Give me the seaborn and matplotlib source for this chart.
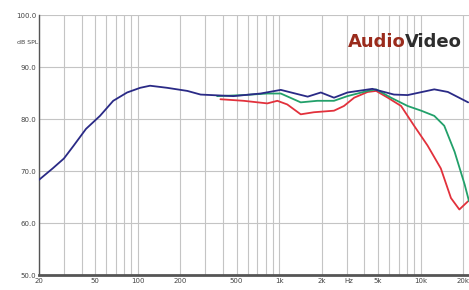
import numpy as np
import pandas as pd
import matplotlib
matplotlib.use("Agg")
import matplotlib.pyplot as plt
import matplotlib.transforms as mtransforms
import seaborn as sns

# frequency response curves (Hz, dB SPL)
blue_freq = [20, 25, 30, 35, 43, 54, 67, 84, 104, 122, 161, 224, 278, 474, 738,
             1026, 1590, 1970, 2440, 3040, 4560, 6480, 8100, 12500, 15600, 21700]
blue_db = [68.3, 70.5, 72.4, 74.8, 78.1, 80.6, 83.5, 85.1, 86.0, 86.4, 86.0, 85.4,
           84.7, 84.4, 84.9, 85.6, 84.3, 85.1, 84.1, 85.1, 85.8, 84.7, 84.6, 85.7,
           85.2, 83.2]

green_freq = [364, 560, 824, 1026, 1420, 1860, 2440, 3040, 4220, 4850, 6170, 8100,
              10100, 12500, 14700, 17400, 20500, 22000]
green_db = [84.4, 84.6, 84.9, 84.9, 83.2, 83.5, 83.5, 84.4, 85.4, 85.7, 84.1, 82.5,
            81.6, 80.6, 78.7, 73.7, 67.4, 64.2]

red_freq = [384, 560, 824, 970, 1140, 1420, 1760, 2440, 2870, 3390, 4220, 4850,
            5860, 7280, 9000, 11200, 13900, 16400, 18800, 21700]
red_db = [83.8, 83.5, 83.0, 83.5, 82.8, 80.9, 81.3, 81.6, 82.5, 84.1, 85.2, 85.4,
          84.1, 82.5, 78.7, 74.9, 70.5, 64.8, 62.6, 64.2]

x_ticks = [20, 50, 100, 200, 500, 1000, 2000, 5000, 10000, 20000]
x_labels = ["20", "50", "100", "200", "500", "1k", "2k", "5k", "10k", "20k"]
y_ticks = [50, 60, 70, 80, 90, 100]
y_labels = ["50.0", "60.0", "70.0", "80.0", "90.0", "100.0"]

sns.set_style("white")
plt.rcParams["font.family"] = ["DejaVu Sans"]

fig = plt.figure(figsize=(4.69, 2.90), dpi=100)
ax = fig.add_axes([39 / 469, 15 / 290, 1 - 39 / 469, 260 / 290])

# grid: every decade subdivision, every 10 dB
minor = [m * 10 ** d for d in range(1, 5) for m in range(1, 10)]
minor = [v for v in minor if 20 <= v <= 22000]
for v in minor:
    ax.axvline(v, color="#c4c4c4", lw=0.8, zorder=0)
for v in y_ticks:
    ax.axhline(v, color="#c4c4c4", lw=0.8, zorder=0)

sns.lineplot(x=red_freq, y=red_db, color="#e2313c", lw=1.3, ax=ax, zorder=3)
sns.lineplot(x=green_freq, y=green_db, color="#22a06a", lw=1.3, ax=ax, zorder=4)
sns.lineplot(x=blue_freq, y=blue_db, color="#2a2a86", lw=1.3, ax=ax, zorder=5)

ax.set_xscale("log")
ax.set_xlim(20, 22000)
ax.set_ylim(50, 100)
ax.set_xticks(x_ticks)
ax.set_xticklabels(x_labels)
ax.xaxis.set_minor_locator(matplotlib.ticker.NullLocator())
ax.set_yticks(y_ticks)
ax.set_yticklabels(y_labels)
ax.tick_params(axis="both", labelsize=5, length=0, pad=2, labelcolor="#444444")

for side in ["top", "right"]:
    ax.spines[side].set_visible(False)
ax.spines["left"].set_color("#555555")
ax.spines["left"].set_linewidth(1.0)
ax.spines["bottom"].set_color("#555555")
ax.spines["bottom"].set_linewidth(2.0)

trans = mtransforms.blended_transform_factory(ax.transData, ax.transAxes)
ax.text(3100, -0.012, "Hz", transform=trans, ha="center", va="top",
        fontsize=5, color="#444444")
fig.text(28 / 469, 1 - 42 / 290, "dB SPL", ha="center", va="center",
         fontsize=4.5, color="#444444")

# logo
fig.text(348 / 469, 1 - 42 / 290, "Audio", ha="left", va="center", fontsize=13,
         fontweight="bold", color="#9a2b1c")
fig.text(405 / 469, 1 - 42 / 290, "Video", ha="left", va="center", fontsize=13,
         fontweight="bold", color="#2e2e2e")

fig.savefig("out.png", dpi=100, facecolor="white")
